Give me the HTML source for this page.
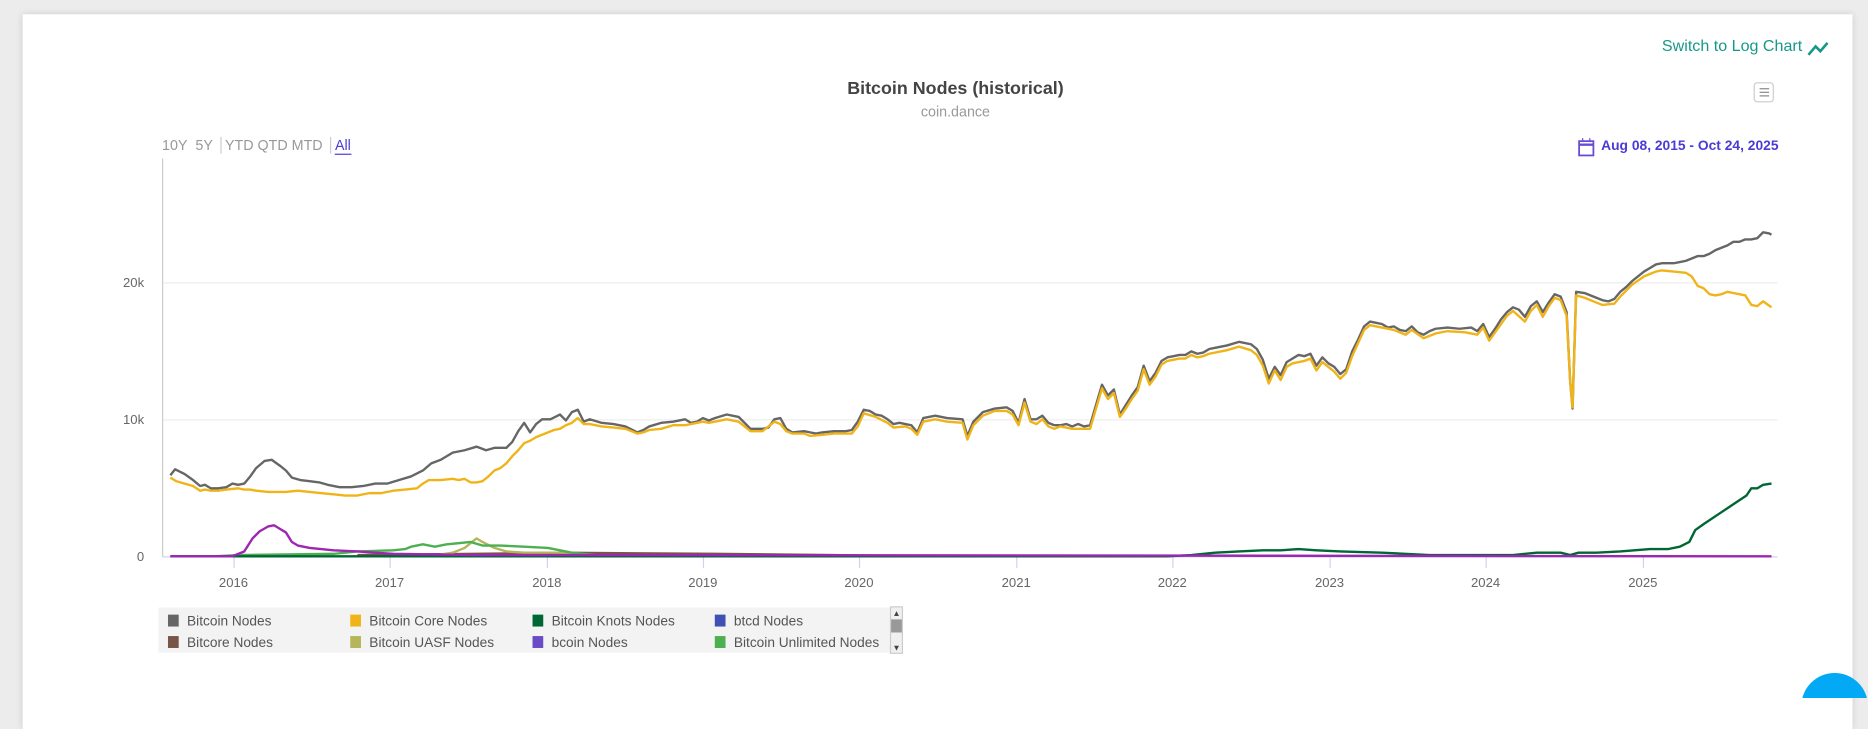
<!DOCTYPE html>
<html><head><meta charset="utf-8"><style>
html,body{margin:0;padding:0;width:1868px;height:698px;overflow:hidden;background:#ececec;}
#w{position:absolute;left:0;top:0;width:1568px;height:586px;transform:scale(1.19133,1.19113);transform-origin:0 0;font-family:"Liberation Sans",Arial,sans-serif;}
.card{position:absolute;left:19px;top:12px;width:1536px;height:600px;background:#fff;box-shadow:0 0 6px rgba(0,0,0,.15);}
.t{position:absolute;white-space:nowrap;}
</style></head><body><div id="w">
<div class="card"></div>
<div class="t" style="left:1395px;top:31px;font-size:13.5px;color:#16998a;">Switch to Log Chart</div>
<svg style="position:absolute;left:1516px;top:33px" width="20" height="16"><polyline points="2,13 8,6 12,10 18,3" fill="none" stroke="#16998a" stroke-width="2.2"/></svg>
<div class="t" style="left:0;width:1604px;text-align:center;top:66px;font-size:15px;font-weight:bold;color:#444;">Bitcoin Nodes (historical)</div>
<div class="t" style="left:0;width:1604px;text-align:center;top:87px;font-size:12px;color:#999;">coin.dance</div>
<div style="position:absolute;left:1472px;top:69px;width:17px;height:17px;border:1px solid #ccc;border-radius:3px;box-sizing:border-box;">
<div style="position:absolute;left:4px;top:4px;width:8px;height:1px;background:#888"></div><div style="position:absolute;left:4px;top:7px;width:8px;height:1px;background:#888"></div><div style="position:absolute;left:4px;top:10px;width:8px;height:1px;background:#888"></div></div>
<div class="t" style="left:136px;top:115px;font-size:12px;color:#999;">10Y&nbsp; 5Y <span style="border-left:1px solid #ccc;margin:0 3px"></span>YTD&nbsp;QTD&nbsp;MTD <span style="border-left:1px solid #ccc;margin:0 3px"></span><span style="color:#4a3bd6;border-bottom:1px solid #4a3bd6">All</span></div>
<svg style="position:absolute;left:1324px;top:115px" width="15" height="17"><rect x="1.5" y="3.5" width="12" height="12" fill="none" stroke="#6a4bd6" stroke-width="1.5"/><line x1="1.5" y1="6.5" x2="13.5" y2="6.5" stroke="#6a4bd6" stroke-width="2"/><line x1="4.5" y1="1" x2="4.5" y2="4" stroke="#6a4bd6"/><line x1="10.5" y1="1" x2="10.5" y2="4" stroke="#6a4bd6"/></svg>
<div class="t" style="left:1344px;top:116px;font-size:11.6px;font-weight:bold;color:#4a3bd6;">Aug 08, 2015 - Oct 24, 2025</div>
<svg style="position:absolute;left:0;top:0" width="1568" height="586" font-family="Liberation Sans, Arial, sans-serif">
<line x1="136" y1="237.5" x2="1492" y2="237.5" stroke="#eee"/>
<line x1="136" y1="352.5" x2="1492" y2="352.5" stroke="#eee"/>
<line x1="136.5" y1="133" x2="136.5" y2="467" stroke="#ccc"/>
<line x1="136" y1="467.5" x2="1492" y2="467.5" stroke="#ccd6eb"/>
<g fill="#666" font-size="11" text-anchor="end"><text x="121" y="241">20k</text><text x="121" y="356">10k</text><text x="121" y="471">0</text></g>
<g stroke="#ccd6eb"><line x1="196.5" y1="467" x2="196.5" y2="477"/><line x1="327.5" y1="467" x2="327.5" y2="477"/><line x1="459.5" y1="467" x2="459.5" y2="477"/><line x1="590.5" y1="467" x2="590.5" y2="477"/><line x1="721.5" y1="467" x2="721.5" y2="477"/><line x1="853.5" y1="467" x2="853.5" y2="477"/><line x1="984.5" y1="467" x2="984.5" y2="477"/><line x1="1116.5" y1="467" x2="1116.5" y2="477"/><line x1="1247.5" y1="467" x2="1247.5" y2="477"/><line x1="1379.5" y1="467" x2="1379.5" y2="477"/></g>
<g fill="#666" font-size="11" text-anchor="middle"><text x="196" y="493">2016</text><text x="327" y="493">2017</text><text x="459" y="493">2018</text><text x="590" y="493">2019</text><text x="721" y="493">2020</text><text x="853" y="493">2021</text><text x="984" y="493">2022</text><text x="1116" y="493">2023</text><text x="1247" y="493">2024</text><text x="1379" y="493">2025</text></g>
<g fill="none" stroke-width="2" stroke-linejoin="round">
<polyline stroke="#795548" points="300,466 400,465 470,464 600,465 700,466 760,467"/>
<polyline stroke="#b5b55c" points="360,467 380,464 390,460 400,452 405,455 415,460 425,463 440,464 470,464 490,466 500,467"/>
<polyline stroke="#4caf50" points="180,467 200,466 280,465 300,463 330,462 340,461 345,459 355,457 365,459 375,457 385,456 395,455 405,458 420,458 440,459 460,460 470,462 480,464 500,466 520,467"/>
<polyline stroke="#006633" points="143,467 980,467 1000,466 1020,464 1040,463 1060,462 1075,462 1090,461 1105,462 1125,463 1160,464 1200,466 1270,466 1290,464 1310,464 1318,466 1325,464 1340,464 1360,463 1385,461 1400,461 1410,459 1418,455 1423,445 1430,440 1445,430 1460,420 1466,416 1470,410 1475,410 1480,407 1487,406"/>
<polyline stroke="#9c27b0" points="143,467 195,467 205,463 212,452 218,446 225,442 230,441 235,444 240,447 245,455 250,458 260,460 280,462 300,463 330,465 400,466 500,466 1487,467"/>
<polyline stroke="#666666" points="143,399 147,394 155,398 162,403 168,408 172,407 177,410 183,410 190,409 195,406 200,407 205,406 210,400 215,393 222,387 228,386 235,391 240,395 245,401 252,403 260,404 268,405 275,407 285,409 295,409 305,408 315,406 325,406 335,403 345,400 355,395 362,389 370,386 380,380 390,378 400,375 408,378 415,376 425,376 430,371 435,362 440,355 445,363 450,356 455,352 462,352 470,348 475,353 480,346 485,344 490,354 495,352 505,355 515,356 525,358 535,363 540,361 545,358 555,355 565,354 575,352 580,355 585,354 590,351 595,353 600,351 610,348 620,350 625,355 630,360 640,360 645,359 650,352 655,351 660,360 665,363 675,362 680,363 685,364 690,363 700,362 710,362 715,361 720,354 725,344 730,345 735,348 740,349 745,352 750,356 755,355 760,356 765,357 770,363 775,351 785,349 795,351 808,352 812,366 817,354 825,346 835,343 845,342 850,345 855,355 860,335 865,352 870,352 875,349 880,355 885,357 890,357 895,356 900,358 905,356 910,358 915,357 920,340 925,323 930,332 935,327 940,348 945,340 950,332 955,325 960,307 965,320 970,313 975,303 980,300 985,299 990,298 995,298 1000,295 1005,297 1010,296 1015,293 1020,292 1030,290 1040,287 1050,289 1055,293 1060,302 1065,318 1070,308 1075,315 1080,304 1085,301 1090,298 1095,299 1100,297 1105,307 1110,300 1115,305 1120,308 1125,314 1130,310 1135,295 1140,285 1145,274 1150,270 1155,271 1160,272 1165,275 1170,274 1175,277 1180,278 1185,274 1190,279 1195,281 1200,278 1205,276 1215,275 1225,276 1235,275 1240,278 1245,272 1250,283 1255,276 1260,268 1265,262 1270,258 1275,260 1280,266 1285,257 1290,253 1295,262 1300,254 1305,247 1310,249 1315,262 1318,320 1320,343 1323,245 1330,246 1335,248 1340,250 1345,252 1350,253 1355,251 1360,245 1365,241 1370,236 1375,232 1380,228 1385,225 1390,222 1395,221 1405,221 1410,220 1415,219 1420,217 1425,215 1430,215 1435,213 1440,210 1445,208 1450,206 1455,203 1460,203 1465,201 1470,201 1475,200 1480,195 1485,196 1487,197"/>
<polyline stroke="#f0b418" points="143,401 148,404 155,406 162,408 168,412 172,411 177,412 183,412 190,411 200,410 205,411 210,411 215,412 225,413 235,413 240,413 250,412 260,413 270,414 280,415 290,416 300,416 310,414 320,414 330,412 340,411 350,410 355,406 360,403 370,403 380,402 385,403 390,402 395,405 400,405 405,404 410,400 415,395 420,393 425,389 430,383 435,378 440,372 445,370 450,367 455,365 460,363 465,361 470,360 475,357 480,355 485,351 490,356 495,356 505,358 515,359 525,360 535,364 540,363 545,361 555,360 565,357 575,357 580,356 590,354 595,355 600,354 610,352 620,354 625,358 630,362 640,362 650,354 655,356 660,362 665,364 675,364 680,366 690,365 700,364 715,364 720,358 725,347 735,350 745,355 750,359 760,358 765,360 770,365 775,354 785,352 795,354 808,355 812,369 817,357 825,349 835,345 845,345 850,348 855,357 860,338 865,354 870,356 875,352 880,358 885,360 890,358 900,360 910,360 915,360 920,343 925,326 930,335 935,330 940,350 945,343 950,335 955,328 960,310 965,323 970,316 975,306 980,303 990,301 995,301 1000,298 1005,300 1010,299 1015,297 1030,294 1040,291 1050,294 1055,298 1060,307 1065,322 1070,311 1075,319 1080,308 1085,305 1095,303 1100,301 1105,311 1110,304 1120,312 1125,318 1130,313 1135,299 1140,288 1145,277 1150,273 1160,275 1170,277 1180,281 1185,277 1195,284 1205,280 1215,278 1230,279 1240,281 1245,275 1250,286 1255,279 1265,265 1270,261 1280,270 1285,261 1290,256 1295,266 1300,257 1305,250 1310,252 1315,265 1318,320 1320,342 1323,248 1330,250 1340,254 1345,256 1355,255 1360,249 1370,239 1380,232 1390,228 1395,227 1405,228 1415,229 1420,232 1425,240 1430,242 1435,247 1440,248 1445,247 1450,245 1455,246 1460,247 1465,248 1470,256 1475,257 1480,253 1487,258"/>
</g>
<rect x="133" y="510" width="624" height="38" fill="#f3f3f3"/>
<g font-size="11.5" fill="#555">
<rect x="141" y="516" width="9" height="10" fill="#666"/><text x="157" y="525">Bitcoin Nodes</text>
<rect x="294" y="516" width="9" height="10" fill="#f0b418"/><text x="310" y="525">Bitcoin Core Nodes</text>
<rect x="447" y="516" width="9" height="10" fill="#006633"/><text x="463" y="525">Bitcoin Knots Nodes</text>
<rect x="600" y="516" width="9" height="10" fill="#3f51b5"/><text x="616" y="525">btcd Nodes</text>
<rect x="141" y="534" width="9" height="10" fill="#795548"/><text x="157" y="543">Bitcore Nodes</text>
<rect x="294" y="534" width="9" height="10" fill="#b5b55c"/><text x="310" y="543">Bitcoin UASF Nodes</text>
<rect x="447" y="534" width="9" height="10" fill="#6a4bc6"/><text x="463" y="543">bcoin Nodes</text>
<rect x="600" y="534" width="9" height="10" fill="#4caf50"/><text x="616" y="543">Bitcoin Unlimited Nodes</text>
</g>
<rect x="747.5" y="509.5" width="10" height="39" fill="#f0f0f0" stroke="#ccc"/>
<rect x="748" y="520" width="9" height="11" fill="#999"/>
<text x="752.5" y="517" font-size="7" text-anchor="middle" fill="#444">▲</text>
<text x="752.5" y="546" font-size="7" text-anchor="middle" fill="#444">▼</text>
<circle cx="1540" cy="593" r="28" fill="#03a9f4"/>
</svg>
</div></body></html>
